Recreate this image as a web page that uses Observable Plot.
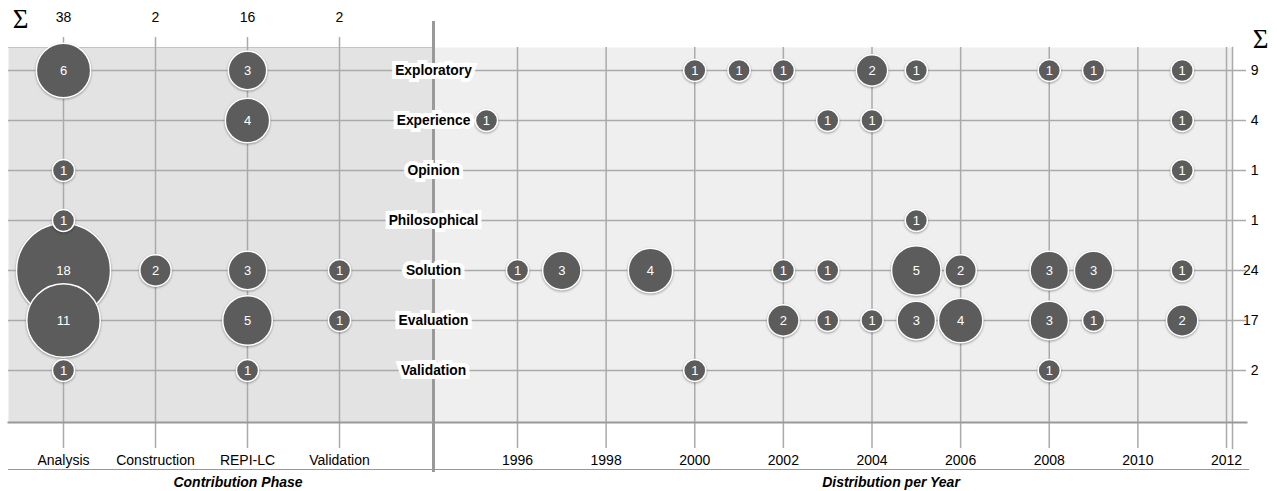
<!DOCTYPE html>
<html><head><meta charset="utf-8">
<script src="https://cdn.jsdelivr.net/npm/d3@7"></script>
<script src="https://cdn.jsdelivr.net/npm/@observablehq/plot@0.6"></script>
<style>
body{margin:0;background:#fff;}
#chart{position:relative;width:1277px;height:491px;}
#chart svg{position:absolute;left:0;top:0;}
#chart svg circle{filter:drop-shadow(0px 1px 1.2px rgba(0,0,0,0.35));}
</style></head><body><div id="chart"></div>
<script>
// ---- data ----
const rows = ["Exploratory","Experience","Opinion","Philosophical","Solution","Evaluation","Validation"];
const phases = ["Analysis","Construction","REPI-LC","Validation"];
const phaseSums = [38, 2, 16, 2];
const rowSums = [9, 4, 1, 1, 24, 17, 2];
const yearTicks = [1996, 1998, 2000, 2002, 2004, 2006, 2008, 2010, 2012];
// counts per row (rows order) x phase (phases order)
const phaseCounts = [
  [6, 0, 3, 0],
  [0, 0, 4, 0],
  [1, 0, 0, 0],
  [1, 0, 0, 0],
  [18, 2, 3, 1],
  [11, 0, 5, 1],
  [1, 0, 1, 0]
];
// [row, year, count]
const yearEntries = [
  ["Exploratory",2000,1],["Exploratory",2001,1],["Exploratory",2002,1],["Exploratory",2004,2],
  ["Exploratory",2005,1],["Exploratory",2008,1],["Exploratory",2009,1],["Exploratory",2011,1],
  ["Experience",1995.3,1],["Experience",2003,1],["Experience",2004,1],["Experience",2011,1],
  ["Opinion",2011,1],
  ["Philosophical",2005,1],
  ["Solution",1996,1],["Solution",1997,3],["Solution",1999,4],["Solution",2002,1],["Solution",2003,1],
  ["Solution",2005,5],["Solution",2006,2],["Solution",2008,3],["Solution",2009,3],["Solution",2011,1],
  ["Evaluation",2002,2],["Evaluation",2003,1],["Evaluation",2004,1],["Evaluation",2005,3],
  ["Evaluation",2006,4],["Evaluation",2008,3],["Evaluation",2009,1],["Evaluation",2011,2],
  ["Validation",2000,1],["Validation",2008,1]
];

// ---- build tables ----
const phaseData = [];
rows.forEach((r, i) => phases.forEach((p, j) => {
  if (phaseCounts[i][j] > 0) phaseData.push({row: r, phase: p, n: phaseCounts[i][j]});
}));
const yearData = yearEntries.map(([row, year, n]) => ({row, year, n}));

const font = "'Liberation Sans', Arial, Helvetica, sans-serif";
const common = {
  width: 1277, height: 491, marginTop: 47, marginBottom: 69,
  style: {background: "transparent", overflow: "visible", fontFamily: font, fontSize: "14px", color: "#000"}
};
const yScale = {type: "point", domain: rows, range: [68, 372], padding: 0, axis: null};
const rScale = {type: "sqrt", domain: [0, 18], range: [0, 47]};
const grid = "#aaaaaa";
const dotFill = "#5c5c5c";
const serif = "'Liberation Serif', 'Times New Roman', serif";

const left = Plot.plot({
  ...common, marginLeft: 8, marginRight: 1277 - 433,
  x: {type: "point", domain: phases, range: [62, 340], padding: 0, axis: null},
  y: yScale, r: rScale,
  marks: [
    Plot.frame({fill: "#e3e3e3"}),
    Plot.frame({anchor: "top", stroke: "#c4c4c4", strokeWidth: 1}),
    Plot.ruleX(phases, {stroke: grid, strokeWidth: 1.5, insetTop: -10, insetBottom: -26}),
    Plot.ruleY(rows, {stroke: grid, strokeWidth: 1.5}),
    Plot.frame({anchor: "bottom", stroke: "#999", strokeWidth: 2}),
    Plot.frame({anchor: "bottom", stroke: "#999", strokeWidth: 1, insetBottom: -47}),
    Plot.dot(phaseData, {x: "phase", y: "row", r: "n", fill: dotFill, stroke: "white", strokeWidth: 1.5}),
    Plot.text(phaseData, {x: "phase", y: "row", text: "n", fill: "white", fontSize: 13}),
    Plot.text(phases, {x: d => d, frameAnchor: "bottom", lineAnchor: "middle", dy: 38, text: d => d, fontSize: 14}),
    Plot.text(phases, {x: d => d, frameAnchor: "top", lineAnchor: "middle", dy: -30, text: (d, i) => phaseSums[i], fontSize: 14}),
    Plot.text(["Σ"], {frameAnchor: "top-left", dx: 12, dy: -28, textAnchor: "middle", lineAnchor: "middle",
      fontSize: 27, fontFamily: serif}),
    Plot.text(["Contribution Phase"], {frameAnchor: "bottom", lineAnchor: "middle", dx: 17, dy: 60,
      fontWeight: "bold", fontStyle: "italic", fontSize: 14})
  ]
});

const right = Plot.plot({
  ...common, marginLeft: 433, marginRight: 45,
  x: {domain: [1996, 2012], range: [517, 1226], axis: null},
  y: yScale, r: rScale,
  marks: [
    Plot.frame({fill: "#efefef"}),
    Plot.ruleX(yearTicks, {stroke: grid, strokeWidth: 1.5, insetBottom: -26}),
    Plot.frame({anchor: "right", stroke: grid, strokeWidth: 1.5, insetBottom: -26}),
    Plot.ruleY(rows, {stroke: grid, strokeWidth: 1.5, insetRight: -14}),
    Plot.frame({anchor: "bottom", stroke: "#999", strokeWidth: 2, insetRight: -14}),
    Plot.frame({anchor: "bottom", stroke: "#999", strokeWidth: 1, insetBottom: -47, insetRight: -16}),
    Plot.frame({anchor: "left", stroke: "#999", strokeWidth: 3, insetTop: -25, insetBottom: -48}),
    Plot.dot(yearData, {x: "year", y: "row", r: "n", fill: dotFill, stroke: "white", strokeWidth: 1.5}),
    Plot.text(yearData, {x: "year", y: "row", text: "n", fill: "white", fontSize: 13}),
    Plot.text(rows, {y: d => d, frameAnchor: "left", text: d => d, textAnchor: "middle",
      fontWeight: "bold", fontSize: 13.8, fill: "black", stroke: "white", strokeWidth: 8,
      paintOrder: "stroke", strokeLinejoin: "miter"}),
    Plot.text(rows, {y: d => d, frameAnchor: "right", dx: 26, text: (d, i) => rowSums[i], fontSize: 14}),
    Plot.text(["Σ"], {frameAnchor: "top-right", dx: 28, dy: -8, textAnchor: "middle", lineAnchor: "middle",
      fontSize: 27, fontFamily: serif}),
    Plot.text(yearTicks, {x: d => d, frameAnchor: "bottom", lineAnchor: "middle", dy: 38, text: d => String(d), fontSize: 14}),
    Plot.text(["Distribution per Year"], {frameAnchor: "bottom", lineAnchor: "middle", dx: 58, dy: 60,
      fontWeight: "bold", fontStyle: "italic", fontSize: 14})
  ]
});

const chart = document.getElementById("chart");
chart.appendChild(left);
chart.appendChild(right);
</script>
</body></html>
